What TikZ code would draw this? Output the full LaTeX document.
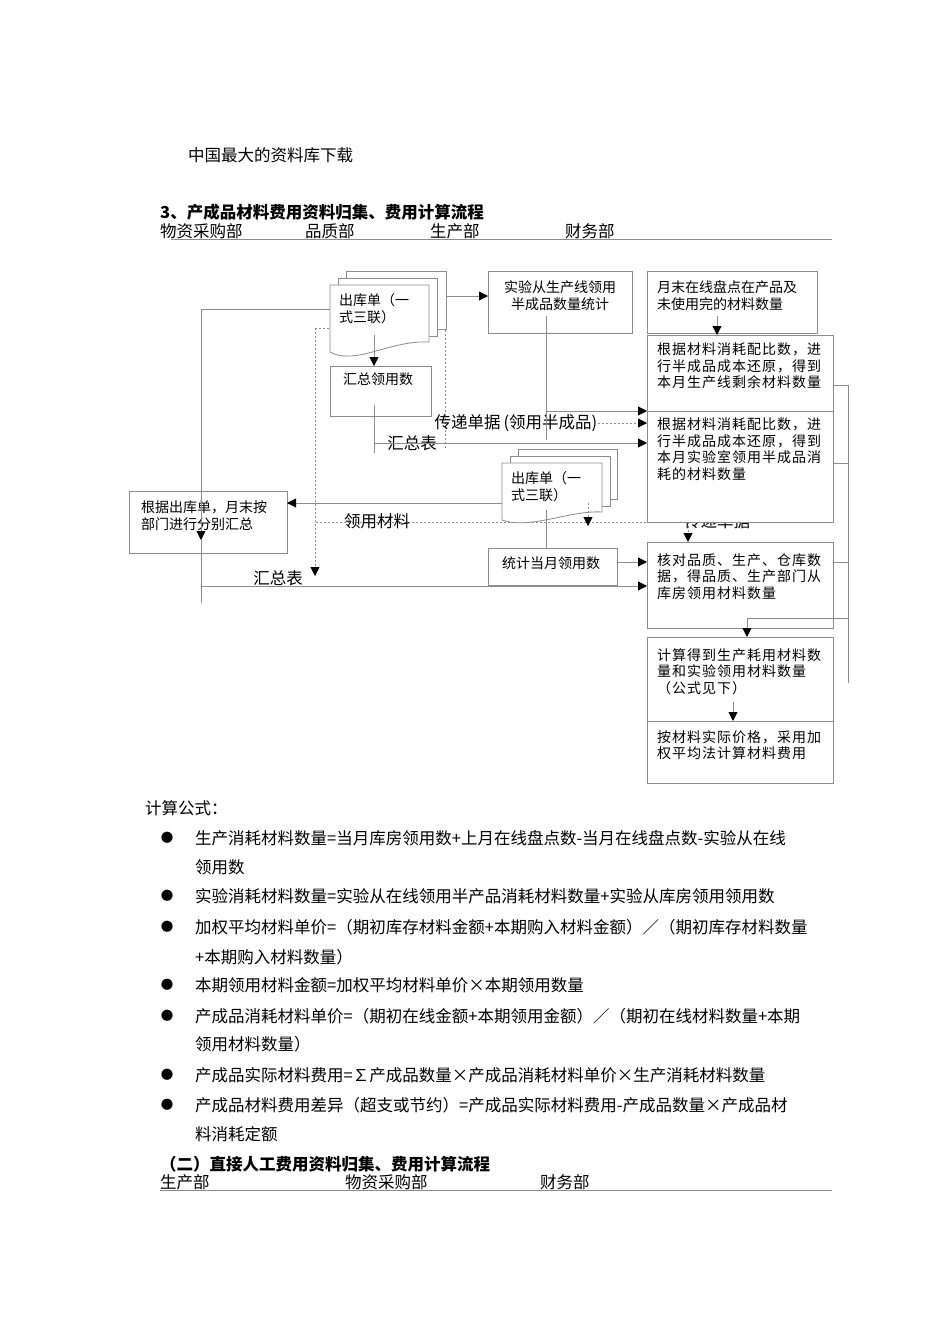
\documentclass[tikz,border=0pt]{standalone}
\usepackage{fontspec}
\setmainfont{Noto Sans CJK SC}
\newfontfamily\widecjk[LetterSpace=7]{Noto Sans CJK SC}
\usetikzlibrary{arrows.meta}

\begin{document}
\begin{tikzpicture}[x=1pt, y=-1pt,
  conn/.style={draw=black!45, line width=0.8pt},
  arr/.style={conn, -{Triangle[length=9pt,width=9pt,color=black]}},
  dconn/.style={conn, dash pattern=on 2pt off 2pt},
  darr/.style={dconn, -{Triangle[length=9pt,width=9pt,color=black]}},
  box/.style={conn, fill=white, inner sep=0pt, outer sep=0pt, anchor=north west},
  txt/.style={inner sep=0pt, anchor=north west, align=left, font={\fontsize{14}{17}\selectfont}},
  wtxt/.style={txt, font={\widecjk\fontsize{14}{16.5}\selectfont}},
  lbl/.style={inner sep=0pt, font={\fontsize{16.5}{18}\selectfont}},
  body/.style={inner sep=0pt, anchor=base west, font={\fontsize{16.5}{18}\selectfont}},
  head/.style={body, font={\bfseries\fontsize{16.5}{18}\selectfont}},
  dot/.style={inner sep=0pt, font={\fontsize{12.5}{13}\selectfont}}]
  \useasboundingbox (0,0) rectangle (950,1344);
  \fill[white] (0,0) rectangle (950,1344);

  % page head
  \node[body] (site) at (188,161) {中国最大的资料库下载};
  \node[head] (title) at (160,218) {3、产成品材料费用资料归集、费用计算流程};
  \node[body] (lane1) at (160,237) {物资采购部};
  \node[body] (lane2) at (305,237) {品质部};
  \node[body] (lane3) at (430,237) {生产部};
  \node[body] (lane4) at (565,237) {财务部};
  \draw[conn] (171,239) -- (832,239);

  % dashed lines that run behind the slips and boxes
  \coordinate (dl) at (315,328);
  \coordinate (dr) at (445,328);
  \coordinate (db) at (445,450);
  \draw[dconn] (dl) -- (dr) -- (db);
  \coordinate (takel) at (316,522);
  \coordinate (taker) at (688,522);
  \draw[dconn] (takel) -- (taker);
  \node[lbl] (pass2) at (717,521) {传递单据};

  % slip stack 1
  \draw[conn, fill=white] (346,271) rectangle (446,329);
  \draw[conn, fill=white] (338,278) rectangle (437,336);
  \draw[conn, fill=white] (330,285) -- (429,285) -- (429,342)
    .. controls (390,340) and (355,366) .. (330,352) -- cycle;
  \node[txt] (slip1) at (339,293) {出库单（一\\式三联）};

  % slip stack 2
  \draw[conn, fill=white] (518,449) rectangle (617,499);
  \draw[conn, fill=white] (510,456) rectangle (610,506);
  \draw[conn, fill=white] (502,463) -- (602,463) -- (602,512)
    .. controls (570,510) and (530,530) .. (502,520) -- cycle;
  \node[txt] (slip2) at (511,471) {出库单（一\\式三联）};

  % boxes
  \node[box, minimum width=144pt, minimum height=62pt] (semi) at (488,271) {};
  \node[box, minimum width=170pt, minimum height=62pt] (stock) at (647,271) {};
  \node[box, minimum width=186pt, minimum height=76pt] (lineleft) at (647,335) {};
  \node[box, minimum width=186pt, minimum height=111pt] (labuse) at (647,411) {};
  \node[box, minimum width=101pt, minimum height=50pt] (sumuse) at (330,366) {};
  \node[box, minimum width=158pt, minimum height=62pt] (deptsum) at (129,491) {};
  \node[box, minimum width=129pt, minimum height=37pt] (monthuse) at (488,548) {};
  \node[box, minimum width=186pt, minimum height=86pt] (check) at (647,542) {};
  \node[box, minimum width=186pt, minimum height=84pt] (calcqty) at (647,637) {};
  \node[box, minimum width=186pt, minimum height=62pt] (cost) at (647,721) {};

  \node[txt, align=center, anchor=north] (semi-t) at (560,280) {实验从生产线领用\\半成品数量统计};
  \node[txt] (stock-t) at (657,280) {月末在线盘点在产品及\\未使用完的材料数量};
  \node[wtxt] (lineleft-t) at (657,343) {根据材料消耗配比数，进\\行半成品成本还原，得到\\本月生产线剩余材料数量};
  \node[wtxt] (labuse-t) at (657,418) {根据材料消耗配比数，进\\行半成品成本还原，得到\\本月实验室领用半成品消\\耗的材料数量};
  \node[txt, anchor=north] (sumuse-t) at (378,373) {汇总领用数};
  \node[txt] (deptsum-t) at (141,500) {根据出库单，月末按\\部门进行分别汇总};
  \node[txt] (monthuse-t) at (502,556) {统计当月领用数};
  \node[wtxt] (check-t) at (657,553) {核对品质、生产、仓库数\\据，得品质、生产部门从\\库房领用材料数量};
  \node[wtxt] (calcqty-t) at (657,648) {计算得到生产耗用材料数\\量和实验领用材料数量\\（公式见下）};
  \node[wtxt] (cost-t) at (657,730) {按材料实际价格，采用加\\权平均法计算材料费用};

  % labels on the connectors
  \node[lbl] (pass1) at (516,423) {传递单据\hspace{3pt}(领用半成品)};
  \node[lbl] (sum1) at (412,443) {汇总表};
  \node[lbl] (take) at (377,521) {领用材料};
  \node[lbl] (sum2) at (278,578) {汇总表};

  % connectors
  \coordinate (slip1e) at (446,296);
  \draw[arr] (slip1e) -- (slip1e -| semi.west);
  \coordinate (slip1s) at (374,335);
  \draw[arr] (slip1s) -- (slip1s |- sumuse.north);
  \coordinate (stocks) at (717,316);
  \draw[arr] (stocks) -- (stocks |- lineleft.north);
  \coordinate (semis) at (546,316);
  \coordinate (semib) at (546,440);
  \draw[conn] (semis) -- (semib);
  \draw[arr] (semis |- labuse.north) -- (labuse.north west);
  \draw[darr] (pass1.east) -- (pass1.east -| labuse.west);
  \coordinate (sumuses) at (374,405);
  \draw[conn] (sumuses) -- ++(0,48);
  \draw[arr] (sumuses |- sum1) -- (sum1 -| labuse.west);

  \coordinate (slip1w) at (330,309);
  \coordinate (leftc) at (201,540);
  \coordinate (leftb) at (201,603);
  \draw[arr] (slip1w) -| (leftc);
  \draw[conn] (leftc) -- (leftb);
  \coordinate (sumrow) at (201,586);
  \draw[arr] (sumrow) -- (sumrow -| check.west);
  \coordinate (sum2t) at (315,576);
  \draw[darr] (dl) -- (sum2t);

  \coordinate (slip2w) at (502,503);
  \draw[arr] (slip2w) -- (slip2w -| deptsum.east);
  \coordinate (slip2d) at (588,503);
  \coordinate (slip2a) at (588,526);
  \draw[darr] (slip2d) -- (slip2a);
  \draw[darr] (taker) -- (taker |- check.north);
  \coordinate (slip2s) at (546,510);
  \draw[conn] (slip2s) -- (slip2s |- monthuse.north);
  \coordinate (monthe) at (617,562);
  \draw[arr] (monthe) -- (monthe -| check.west);

  % right side collecting line
  \coordinate (busT) at (848,385);
  \coordinate (busD) at (848,463);
  \coordinate (busG) at (848,562);
  \coordinate (busI) at (848,618);
  \coordinate (busB) at (848,683);
  \draw[conn] (busT -| lineleft.east) -- (busT) -- (busB);
  \draw[conn] (busD -| labuse.east) -- (busD);
  \draw[conn] (busG -| check.east) -- (busG);
  \coordinate (gin) at (747,618);
  \draw[conn] (busI) -- (gin);
  \draw[arr] (gin) -- (gin |- calcqty.north);
  \coordinate (calcs) at (733,702);
  \draw[arr] (calcs) -- (calcs |- cost.north);

  % formulas
  \node[body] (calc) at (145,814) {计算公式：};
  \foreach \y in {838,896,927,985,1016,1075,1105}
    \node[dot] at (167,\y) {●};
  \node[body] (f1) at (195,844) {生产消耗材料数量=当月库房领用数+上月在线盘点数-当月在线盘点数-实验从在线};
  \node[body] (f1b) at (195,873) {领用数};
  \node[body] (f2) at (195,902) {实验消耗材料数量=实验从在线领用半产品消耗材料数量+实验从库房领用领用数};
  \node[body] (f3) at (195,933) {加权平均材料单价=（期初库存材料金额+本期购入材料金额）／（期初库存材料数量};
  \node[body] (f3b) at (195,963) {+本期购入材料数量）};
  \node[body] (f4) at (195,991) {本期领用材料金额=加权平均材料单价×本期领用数量};
  \node[body] (f5) at (195,1022) {产成品消耗材料单价=（期初在线金额+本期领用金额）／（期初在线材料数量+本期};
  \node[body] (f5b) at (195,1050) {领用材料数量）};
  \node[body] (f6) at (195,1081) {产成品实际材料费用=∑产成品数量×产成品消耗材料单价×生产消耗材料数量};
  \node[body] (f7) at (195,1111) {产成品材料费用差异（超支或节约）=产成品实际材料费用-产成品数量×产成品材};
  \node[body] (f7b) at (195,1140) {料消耗定额};

  % next section head
  \node[head] (title2) at (160,1170) {（二）直接人工费用资料归集、费用计算流程};
  \node[body] (lane5) at (160,1188) {生产部};
  \node[body] (lane6) at (345,1188) {物资采购部};
  \node[body] (lane7) at (540,1188) {财务部};
  \draw[conn] (160,1190) -- (832,1190);
\end{tikzpicture}
\end{document}
